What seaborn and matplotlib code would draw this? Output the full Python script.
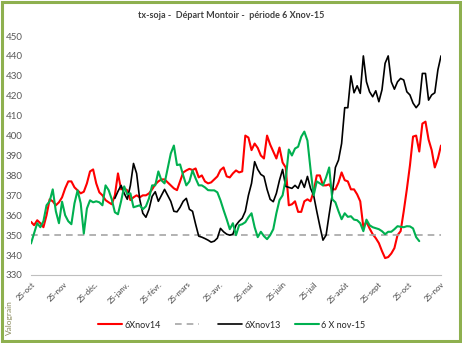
import matplotlib
matplotlib.use("Agg")
import matplotlib.pyplot as plt
import seaborn as sns
import pandas as pd
from matplotlib.patches import Rectangle

# ---------------- data ----------------
start_date = "2014-10-25"
step = "3D"

red_6xnov14 = [
    356.7, 355, 357.5, 356, 354, 360, 368, 367, 365, 366.5,
    369, 373.5, 377, 377, 374, 372.5, 371, 371.8, 376, 382,
    383, 376, 371.5, 370, 367.6, 366.5, 365.5, 370, 381, 373,
    373.5, 372.5, 367.6, 369, 370, 369, 370, 370, 371, 373,
    375.5, 377, 378, 378, 376.5, 375, 373.5, 372.6, 377, 381.5,
    382.5, 383.3, 382.7, 383.5, 379, 380, 377, 376, 376.5, 378,
    379.5, 382.7, 384, 379.5, 379, 381, 382.5, 381.5, 382, 400,
    399, 392.7, 396, 393.8, 390, 388.5, 400, 395.5, 392, 388.5,
    394, 386.5, 384, 365, 365.5, 367, 361.7, 361.7, 367, 368,
    367, 372, 380, 380, 375, 375, 375.5, 373, 373, 376.5,
    381.5, 377.6, 377, 373, 373, 370.5, 367, 354, 356.7, 353.4,
    350.5, 348.5, 346, 342, 338.5, 339, 340.8, 343.5, 350, 352,
    362, 373, 385, 399.5, 400, 392, 406, 407, 398, 392.7,
    384, 388.5, 395,
]

black_start_index = 27  # first sample of 6Xnov13 (in 3-day steps from start_date)
black_6xnov13 = [
    368.5, 372, 375, 371, 368, 375, 386, 381, 368, 361,
    359, 363, 369.5, 371.8, 367, 370, 373, 370, 367, 362,
    361.7, 364, 367, 368.5, 363, 362, 355.5, 349.5, 349, 348.3,
    347.5, 346.5, 347, 348.5, 353.4, 351.7, 350.5, 350, 350.5, 355,
    357, 358.5, 362, 370, 376, 386.9, 383, 380.5, 379.5, 373,
    368, 366.8, 371, 377.6, 383, 374.5, 374, 373.5, 375, 373.5,
    377.6, 374, 379.5, 373.5, 370, 362, 354.5, 347.5, 350, 360.5,
    370.5, 384, 387.7, 396, 414, 414, 430, 421.5, 425, 421.2,
    440, 427, 422, 419.5, 422.5, 417, 423, 436.3, 440, 427,
    423.3, 427, 428.7, 427.9, 422, 420.4, 416.3, 414, 416, 431.2,
    431.2, 417.8, 420.4, 421.5, 433, 440,
]

green_6xnov15 = [
    345.8, 351, 356, 354, 357, 365, 367, 373, 362, 356,
    366.8, 360, 357, 355.5, 366, 372.5, 366, 350.8, 363.4, 367.5,
    366.5, 367, 366.5, 365, 375, 372.6, 368, 361.5, 360.5, 367,
    374.5, 370.5, 371, 364, 364.5, 365, 363, 364.5, 368.5, 375,
    375, 382, 377.5, 376, 383.5, 391, 395, 385.2, 385.5, 380,
    375, 377, 382.5, 378.5, 375, 375, 374, 372.6, 372.5, 372.5,
    371.5, 367.5, 362.6, 358, 353, 356, 350, 355, 355.5, 356.5,
    359, 361, 354, 349, 351.7, 349.5, 348, 350, 353, 361,
    367.6, 370, 378, 393, 390, 393.5, 394.4, 399.4, 402, 397.5,
    383, 370, 377, 376, 375, 379, 384, 368, 366.5, 362,
    358, 361, 359.2, 359.5, 357.8, 357.5, 356, 352, 357.8, 355,
    354, 353.5, 353, 352, 350.5, 351.7, 351.7, 353, 354.5, 354.2,
    354, 354.5, 354.4, 353.4, 349, 347,
]

ref_level = 350

series_labels = ["6Xnov14", " ", "6Xnov13", "6 X nov-15"]
tick_labels = ["25-oct", "25-nov", "25-déc.", "25-janv.", "25-févr.", "25-mars",
               "25-avr.", "25-mai", "25-juin", "25-juil", "25-août", "25-sept",
               "25-oct", "25-nov"]
y_ticks = [330, 340, 350, 360, 370, 380, 390, 400, 410, 420, 430, 440, 450]
title = "tx-soja -  Départ Montoir -  période 6 Xnov-15"

# ---------------- build frames ----------------
all_dates = pd.date_range(start_date, periods=len(red_6xnov14), freq=step)
df_red = pd.DataFrame({"date": all_dates, "value": red_6xnov14})
df_black = pd.DataFrame({"date": all_dates[black_start_index:black_start_index + len(black_6xnov13)],
                         "value": black_6xnov13})
df_green = pd.DataFrame({"date": all_dates[:len(green_6xnov15)], "value": green_6xnov15})
df_ref = pd.DataFrame({"date": [all_dates[0], all_dates[-1]], "value": [ref_level, ref_level]})
tick_dates = pd.date_range(start_date, periods=len(tick_labels), freq=pd.DateOffset(months=1))

# ---------------- style ----------------
sns.set_theme(style="white")
plt.rcParams["font.family"] = ["Lato", "DejaVu Sans"]

W, H = 462, 343
fig = plt.figure(figsize=(W / 100, H / 100), dpi=100)
ax = fig.add_axes([31 / W, (H - 275) / H, (441 - 31) / W, (275 - 36) / H])

sns.lineplot(data=df_red, x="date", y="value", color="#FF0000", linewidth=1.5,
             label=series_labels[0], ax=ax)
sns.lineplot(data=df_ref, x="date", y="value", color="#A6A6A6", linewidth=1.2,
             linestyle=(0, (4, 3)), label=series_labels[1], ax=ax)
sns.lineplot(data=df_black, x="date", y="value", color="#000000", linewidth=1.2,
             label=series_labels[2], ax=ax)
sns.lineplot(data=df_green, x="date", y="value", color="#00B050", linewidth=1.5,
             label=series_labels[3], ax=ax)

ax.set_xlim(all_dates[0], all_dates[-1])
ax.set_ylim(y_ticks[0], y_ticks[-1])
ax.set_yticks(y_ticks)
ax.set_xticks(tick_dates)
ax.set_xticklabels(tick_labels, rotation=45, ha="right", rotation_mode="anchor",
                   fontsize=5.5, color="#404040")
ax.tick_params(axis="y", labelsize=7, colors="#595959", length=0, pad=6)
ax.tick_params(axis="x", direction="in", length=3, color="#BFBFBF", pad=4)
ax.set_xlabel("")
ax.set_ylabel("")
for s in ["top", "right", "left"]:
    ax.spines[s].set_visible(False)
ax.spines["bottom"].set_color("#BFBFBF")
ax.spines["bottom"].set_linewidth(0.8)

ax.legend(loc="center", bbox_to_anchor=(232 / W, 18 / H), bbox_transform=fig.transFigure,
          ncol=4, frameon=False, fontsize=6.5, handlelength=2.6, handletextpad=0.3,
          columnspacing=1.6)

fig.text(0.5, (H - 16) / H, title, ha="center", va="center", fontsize=6.5,
         fontweight="bold", color="#404040")
fig.text(9 / W, (H - 318) / H, "Valograin", rotation=90, ha="center", va="center",
         fontsize=6, color="#8a8a5c")

fig.patches.append(Rectangle((0.004, 0.005), 0.991, 0.99, transform=fig.transFigure,
                             fill=False, edgecolor="#8EB04F", linewidth=2.2))

fig.savefig("out.png", dpi=100)
